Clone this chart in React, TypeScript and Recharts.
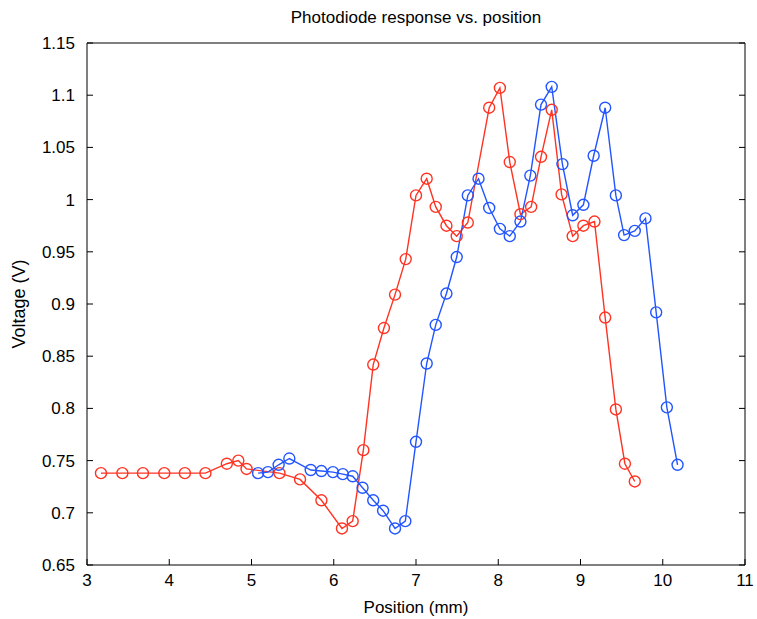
import React from 'react';
import { LineChart, Line, XAxis, YAxis, Label } from 'recharts';

// position (mm) and voltage (V)
const redX = [3.17, 3.43, 3.68, 3.94, 4.19, 4.44, 4.7, 4.84, 4.94, 5.34, 5.59, 5.85, 6.1, 6.23, 6.36, 6.48, 6.61, 6.745, 6.875, 7.0, 7.13, 7.24, 7.37, 7.495, 7.63, 7.89, 8.02, 8.14, 8.27, 8.4, 8.52, 8.65, 8.77, 8.905, 9.035, 9.17, 9.3, 9.43, 9.54, 9.66];
const redY = [0.738, 0.738, 0.738, 0.738, 0.738, 0.738, 0.747, 0.75, 0.742, 0.738, 0.732, 0.712, 0.685, 0.692, 0.76, 0.842, 0.877, 0.909, 0.943, 1.004, 1.02, 0.993, 0.975, 0.965, 0.978, 1.088, 1.107, 1.036, 0.986, 0.993, 1.041, 1.086, 1.005, 0.965, 0.975, 0.979, 0.887, 0.799, 0.747, 0.73];

const blueX = [5.08, 5.2, 5.33, 5.46, 5.72, 5.85, 5.99, 6.11, 6.23, 6.35, 6.48, 6.6, 6.745, 6.87, 7.0, 7.13, 7.24, 7.37, 7.495, 7.63, 7.76, 7.89, 8.02, 8.14, 8.27, 8.39, 8.52, 8.65, 8.78, 8.905, 9.035, 9.16, 9.3, 9.43, 9.53, 9.66, 9.79, 9.92, 10.05, 10.18];
const blueY = [0.738, 0.739, 0.746, 0.752, 0.741, 0.74, 0.739, 0.737, 0.735, 0.724, 0.712, 0.702, 0.685, 0.692, 0.768, 0.843, 0.88, 0.91, 0.945, 1.004, 1.02, 0.992, 0.972, 0.965, 0.979, 1.023, 1.091, 1.108, 1.034, 0.985, 0.995, 1.042, 1.088, 1.004, 0.966, 0.97, 0.982, 0.892, 0.801, 0.746];

const xTicks = [3, 4, 5, 6, 7, 8, 9, 10, 11];
const yTicks = [0.65, 0.7, 0.75, 0.8, 0.85, 0.9, 0.95, 1, 1.05, 1.1, 1.15];

const redData = redX.map((x, i) => ({ x, y: redY[i] }));
const blueData = blueX.map((x, i) => ({ x, y: blueY[i] }));

const FONT = '"Liberation Sans", Arial, sans-serif';
const TICK_LEN = 6;

// matlab style ticks: pointing into the box
const BottomTick = (props: any) => {
  const { x, y, payload } = props;
  return (
    <g>
      <line x1={x} y1={y} x2={x} y2={y - TICK_LEN} stroke="#000" />
      <text x={x} y={y + 21} textAnchor="middle" fontSize={17} fontFamily={FONT} fill="#000">
        {payload.value}
      </text>
    </g>
  );
};

const TopTick = (props: any) => {
  const { x, y } = props;
  return <line x1={x} y1={y} x2={x} y2={y + TICK_LEN} stroke="#000" />;
};

const LeftTick = (props: any) => {
  const { x, y, payload } = props;
  return (
    <g>
      <line x1={x} y1={y} x2={x + TICK_LEN} y2={y} stroke="#000" />
      <text x={x - 12} y={y + 6} textAnchor="end" fontSize={17} fontFamily={FONT} fill="#000">
        {payload.value}
      </text>
    </g>
  );
};

const RightTick = (props: any) => {
  const { x, y } = props;
  return <line x1={x} y1={y} x2={x - TICK_LEN} y2={y} stroke="#000" />;
};

export default function App() {
  return (
    <div style={{ position: 'absolute', left: 0, top: 0, width: 757, height: 619, background: '#fff' }}>
      <LineChart width={757} height={619} margin={{ top: 0, right: 0, bottom: 0, left: 0 }}>
        <XAxis
          dataKey="x"
          type="number"
          domain={[3, 11]}
          ticks={xTicks}
          height={54}
          tickSize={0}
          tickMargin={0}
          tick={<BottomTick />}
          axisLine={{ stroke: '#000' }}
          tickLine={false}
          allowDataOverflow
        >
          <Label value="Position (mm)" position="insideBottom" offset={6} fontSize={17} fontFamily={FONT} fill="#000" />
        </XAxis>
        <XAxis
          xAxisId="top"
          orientation="top"
          type="number"
          domain={[3, 11]}
          ticks={xTicks}
          height={43}
          tickSize={0}
          tickMargin={0}
          tick={<TopTick />}
          axisLine={{ stroke: '#000' }}
          tickLine={false}
          allowDataOverflow
        >
          <Label value="Photodiode response vs. position" position="insideTop" offset={11} fontSize={17} fontFamily={FONT} fill="#000" />
        </XAxis>
        <YAxis
          type="number"
          domain={[0.65, 1.15]}
          ticks={yTicks}
          width={87}
          tickSize={0}
          tickMargin={0}
          tick={<LeftTick />}
          axisLine={{ stroke: '#000' }}
          tickLine={false}
          allowDataOverflow
        >
          <Label
            value="Voltage (V)"
            angle={-90}
            position="insideLeft"
            offset={19}
            fontSize={18}
            fontFamily={FONT}
            fill="#000"
            style={{ textAnchor: 'middle' }}
          />
        </YAxis>
        <YAxis
          yAxisId="right"
          orientation="right"
          type="number"
          domain={[0.65, 1.15]}
          ticks={yTicks}
          width={12}
          tickSize={0}
          tickMargin={0}
          tick={<RightTick />}
          axisLine={{ stroke: '#000' }}
          tickLine={false}
          allowDataOverflow
        />
        <Line
          data={redData}
          dataKey="y"
          stroke="#ff3322"
          strokeWidth={1.4}
          dot={{ r: 5.5, fill: 'none', stroke: '#ff3322', strokeWidth: 1.4 }}
          isAnimationActive={false}
        />
        <Line
          data={blueData}
          dataKey="y"
          stroke="#2255ff"
          strokeWidth={1.4}
          dot={{ r: 5.5, fill: 'none', stroke: '#2255ff', strokeWidth: 1.4 }}
          isAnimationActive={false}
        />
      </LineChart>
    </div>
  );
}
